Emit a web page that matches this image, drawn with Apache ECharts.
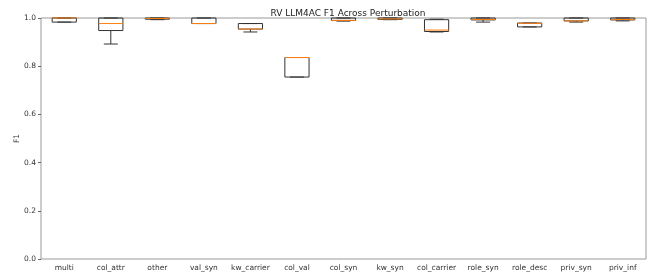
<!DOCTYPE html>
<html>
<head>
<meta charset="utf-8">
<script src="https://cdn.jsdelivr.net/npm/echarts@6/dist/echarts.min.js"></script>
<style>
  html, body { margin: 0; padding: 0; background: #fff; }
  #chart { width: 651px; height: 275px; }
</style>
</head>
<body>
<div id="chart"></div>
<script>
// perturbation names along x
const categories = ['multi', 'col_attr', 'other', 'val_syn', 'kw_carrier', 'col_val', 'col_syn',
  'kw_syn', 'col_carrier', 'role_syn', 'role_desc', 'priv_syn', 'priv_inf']

// five-number summary per perturbation
const whiskerLow = [0.983, 0.892, 0.993, 0.977, 0.942, 0.755, 0.987, 0.993, 0.942, 0.983, 0.963, 0.983, 0.988]
const q1 = [0.983, 0.948, 0.995, 0.977, 0.954, 0.755, 0.990, 0.994, 0.944, 0.992, 0.963, 0.988, 0.992]
const median = [1.0, 0.977, 0.998, 0.977, 0.954, 0.836, 0.990, 0.996, 0.950, 0.994, 0.978, 0.988, 0.994]
const q3 = [1.0, 1.0, 1.0, 1.0, 0.977, 0.836, 1.0, 1.0, 0.993, 1.0, 0.979, 1.0, 1.0]
const whiskerHigh = [1.0, 1.0, 1.0, 1.0, 0.977, 0.836, 1.0, 1.0, 0.995, 1.0, 0.979, 1.0, 1.0]

const yTicks = [0, 0.2, 0.4, 0.6, 0.8, 1.0]

const boxData = categories.map((c, i) => [i, whiskerLow[i], q1[i], median[i], q3[i], whiskerHigh[i]])

const chart = echarts.init(document.getElementById('chart'))

function renderBox(params, api) {
  const i = api.value(0)
  const band = api.size([1, 0])[0]
  const half = band * 0.26
  const cap = band * 0.15
  const x = api.coord([i, 0])[0]
  const yLo = api.coord([i, api.value(1)])[1]
  const yQ1 = api.coord([i, api.value(2)])[1]
  const yMed = api.coord([i, api.value(3)])[1]
  const yQ3 = api.coord([i, api.value(4)])[1]
  const yHi = api.coord([i, api.value(5)])[1]
  const stroke = { stroke: '#333', lineWidth: 1, fill: null }
  return {
    type: 'group',
    children: [
      { type: 'line', shape: { x1: x, y1: yQ1, x2: x, y2: yLo }, style: stroke },
      { type: 'line', shape: { x1: x, y1: yQ3, x2: x, y2: yHi }, style: stroke },
      { type: 'line', shape: { x1: x - cap, y1: yLo, x2: x + cap, y2: yLo }, style: stroke },
      { type: 'line', shape: { x1: x - cap, y1: yHi, x2: x + cap, y2: yHi }, style: stroke },
      { type: 'rect', shape: { x: x - half, y: yQ3, width: half * 2, height: yQ1 - yQ3 }, style: stroke },
      { type: 'line', shape: { x1: x - half, y1: yMed, x2: x + half, y2: yMed },
        style: { stroke: '#ff7f0e', lineWidth: 1 } }
    ]
  }
}

const option = {
  animation: false,
  textStyle: { fontFamily: 'DejaVu Sans' },
  title: {
    text: 'RV LLM4AC F1 Across Perturbation',
    left: 343,
    textAlign: 'center',
    top: 4,
    textStyle: { fontSize: 9, fontWeight: 'normal', color: '#222' }
  },
  grid: {
    left: 41, right: 5, top: 18, bottom: 16,
    outerBoundsMode: 'none',
    containLabel: false,
    show: true, borderColor: '#999', borderWidth: 1
  },
  xAxis: {
    type: 'category',
    data: categories,
    name: 'Perturbation',
    nameLocation: 'middle',
    nameGap: 18,
    nameMoveOverlap: false,
    nameTextStyle: { fontSize: 7.5, color: '#333' },
    axisLine: { show: false },
    axisTick: { alignWithLabel: true, length: 3, lineStyle: { color: '#666' } },
    axisLabel: { fontSize: 7.5, color: '#333', margin: 5, interval: 0 },
    splitLine: { show: false }
  },
  yAxis: {
    type: 'value',
    min: 0,
    max: 1,
    interval: 0.2,
    name: 'F1',
    nameLocation: 'middle',
    nameGap: 20,
    nameMoveOverlap: false,
    nameRotate: 90,
    nameTextStyle: { fontSize: 7.5, color: '#333' },
    axisLine: { show: false },
    axisTick: { show: true, length: 3, lineStyle: { color: '#666' } },
    axisLabel: {
      fontSize: 7.5, color: '#333', margin: 5,
      formatter: v => yTicks.includes(+v.toFixed(1)) ? v.toFixed(1) : ''
    },
    splitLine: { show: false }
  },
  series: [
    {
      type: 'custom',
      renderItem: renderBox,
      data: boxData,
      encode: { x: 0, y: [1, 2, 3, 4, 5] },
      clip: false
    }
  ]
}

chart.setOption(option)
</script>
</body>
</html>
